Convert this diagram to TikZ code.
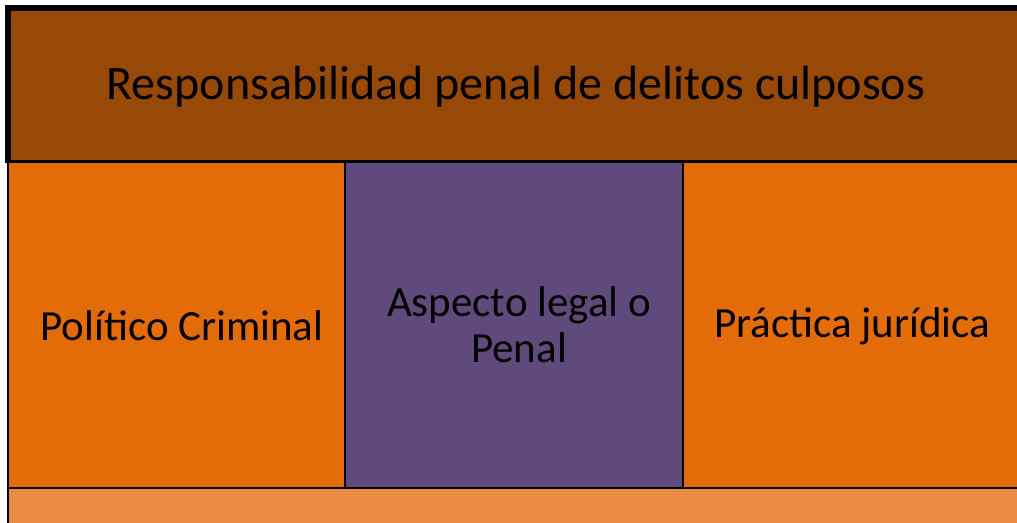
\documentclass[tikz,border=0pt]{standalone}
\usepackage{fontspec}
\setmainfont{Carlito}
\definecolor{brownband}{HTML}{984807}
\definecolor{orangecol}{HTML}{E36C09}
\definecolor{purplecol}{HTML}{604A7B}
\definecolor{lightband}{HTML}{E98C42}
\begin{document}
\begin{tikzpicture}[x=1pt,y=-1pt,
  colbox/.style={draw=black,line width=2pt},
  coltext/.style={font=\fontsize{43}{46}\selectfont,align=center,text=black}]
\useasboundingbox (0,0) rectangle (1017,522);
\begin{scope}
\clip (0,0) rectangle (1017,522);
% bottom band
\fill[lightband] (8,488) rectangle (1030,540);
\draw[line width=2pt] (8,488) -- (8,540);
% columns
\draw[colbox,fill=orangecol] (8,161.5) rectangle (345,488);
\draw[colbox,fill=purplecol] (345,161.5) rectangle (683,488);
\draw[colbox,fill=orangecol] (683,161.5) rectangle (1030,488);
% top band
\fill[brownband] (8,8) rectangle (1030,161.5);
\draw[line width=6pt] (8,161.5) -- (8,8) -- (1030,8);
\draw[line width=3pt] (5,161.5) -- (1030,161.5);
\end{scope}
\node[font=\fontsize{48}{52}\selectfont,text=black] (title) at (516,87) {Responsabilidad penal de delitos culposos};
\node[coltext] (c1) at (182,326) {Político Criminal};
\node[coltext] (c2) at (519,325) {Aspecto legal o\\Penal};
\node[coltext] (c3) at (852,326) {Práctica jurídica};
\end{tikzpicture}
\end{document}
